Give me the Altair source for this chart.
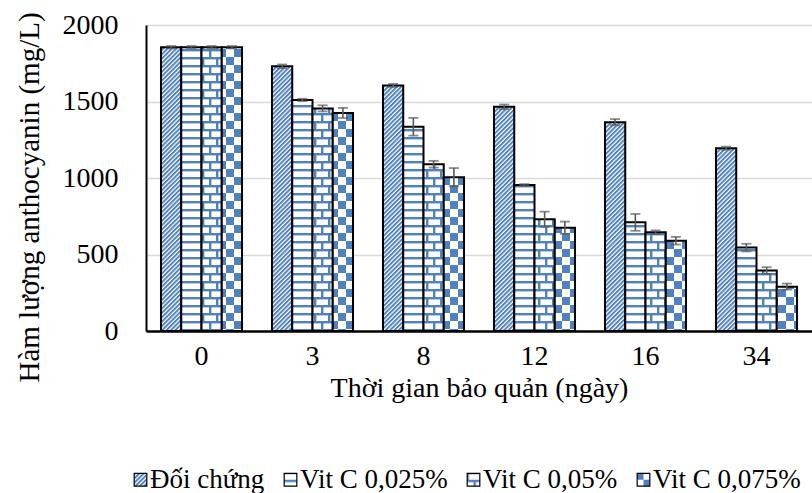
import altair as alt
import pandas as pd

# ---- data ----
days = ["0", "3", "8", "12", "16", "34"]
series = ["Đối chứng", "Vit C 0,025%", "Vit C 0,05%", "Vit C 0,075%"]

doi_chung = [1855, 1730, 1605, 1465, 1365, 1195]
vitc_025 = [1855, 1510, 1335, 955, 710, 545]
vitc_05 = [1855, 1455, 1090, 730, 645, 395]
vitc_075 = [1855, 1425, 1005, 675, 590, 290]

doi_chung_err = [8, 12, 10, 15, 20, 10]
vitc_025_err = [8, 8, 58, 5, 55, 25]
vitc_05_err = [8, 20, 22, 50, 12, 22]
vitc_075_err = [8, 33, 60, 40, 25, 20]

values = [doi_chung, vitc_025, vitc_05, vitc_075]
errors = [doi_chung_err, vitc_025_err, vitc_05_err, vitc_075_err]

rows = []
for s, vals, errs in zip(series, values, errors):
    for d, v, e in zip(days, vals, errs):
        rows.append({"day": d, "series": s, "value": v, "lo": v - e, "hi": v + e})
df = pd.DataFrame(rows)

BLUE = "#4F81BD"
FONT = "Liberation Serif"
FS = 28
TFS = 29
LFS = 27

# pattern fills (with solid fallback colour)
fills = [
    "url(#pDiag) " + BLUE,
    "url(#pHoriz) " + BLUE,
    "url(#pBrick) " + BLUE,
    "url(#pCheck) " + BLUE,
]

x_enc = alt.X(
    "day:N",
    sort=days,
    scale=alt.Scale(paddingInner=0.27, paddingOuter=0.135),
    axis=alt.Axis(
        title="Thời gian bảo quản (ngày)",
        labelAngle=0,
        labelFont=FONT,
        labelFontSize=FS,
        labelColor="black",
        labelPadding=25,
        labelBaseline="middle",
        ticks=False,
        tickSize=0,
        domainColor="black",
        domainWidth=2.5,
        titleFont=FONT,
        titleFontSize=FS,
        titleFontWeight="normal",
        titleColor="black",
        titleY=57,
        titleBaseline="middle",
    ),
)
xoff_enc = alt.XOffset(
    "series:N", sort=series, scale=alt.Scale(paddingInner=0, paddingOuter=0)
)

bars = alt.Chart(df).mark_bar(stroke="black", strokeWidth=2).encode(
    x=x_enc,
    xOffset=xoff_enc,
    y=alt.Y(
        "value:Q",
        scale=alt.Scale(domain=[0, 2000], nice=False),
        axis=alt.Axis(
            values=[0, 500, 1000, 1500, 2000],
            format="d",
            title="Hàm lượng anthocyanin (mg/L)",
            grid=True,
            gridColor="#d9d9d9",
            gridWidth=1.5,
            ticks=False,
            tickSize=0,
            domainColor="black",
            domainWidth=2,
            labelFont=FONT,
            labelFontSize=FS,
            labelColor="black",
            labelPadding=28,
            titleFont=FONT,
            titleFontSize=TFS,
            titleFontWeight="normal",
            titleColor="black",
            titleX=-117,
            titleY=172,
            titleAlign="center",
            titleBaseline="middle",
        ),
    ),
    color=alt.Color(
        "series:N",
        sort=series,
        scale=alt.Scale(domain=series, range=fills),
        legend=alt.Legend(
            title=None,
            orient="none",
            direction="horizontal",
            legendX=-19,
            legendY=441,
            symbolType="square",
            symbolSize=160,
            symbolStrokeColor="black",
            symbolStrokeWidth=1.2,
            symbolOpacity=1,
            labelFont=FONT,
            labelFontSize=LFS,
            labelColor="black",
            labelOffset={"expr": "-4"},
            columnPadding=12,
            labelLimit=300,
        ),
    ),
)

err_rule = alt.Chart(df).mark_rule(color="#595959", strokeWidth=1.6).encode(
    x=x_enc, xOffset=xoff_enc, y="lo:Q", y2="hi:Q"
)
err_lo = alt.Chart(df).mark_tick(color="#595959", thickness=1.8, size=10).encode(
    x=x_enc, xOffset=xoff_enc, y="lo:Q"
)
err_hi = alt.Chart(df).mark_tick(color="#595959", thickness=1.8, size=10).encode(
    x=x_enc, xOffset=xoff_enc, y="hi:Q"
)

chart = (
    alt.layer(bars, err_rule, err_lo, err_hi)
    .properties(
        width=666,
        height=306,
        autosize=alt.AutoSizeParams(type="none"),
        padding={"left": 146, "top": 25, "right": 0, "bottom": 162},
        background="white",
    )
    .configure_view(stroke=None)
)

PATTERN_DEFS = f"""
<svg width="0" height="0" style="position:absolute;width:0;height:0;overflow:hidden" aria-hidden="true">
 <defs>
  <pattern id="pDiag" patternUnits="userSpaceOnUse" width="3.1" height="3.1" patternTransform="rotate(45)">
   <rect width="3.1" height="3.1" fill="#ffffff"/>
   <rect width="1.9" height="3.1" fill="{BLUE}"/>
  </pattern>
  <pattern id="pHoriz" patternUnits="userSpaceOnUse" width="8" height="8">
   <rect width="8" height="8" fill="#ffffff"/>
   <rect y="0" width="8" height="2.4" fill="{BLUE}"/>
  </pattern>
  <pattern id="pBrick" patternUnits="userSpaceOnUse" width="14" height="16">
   <rect width="14" height="16" fill="#ffffff"/>
   <rect y="0" width="14" height="2.4" fill="{BLUE}"/>
   <rect y="8" width="14" height="2.4" fill="{BLUE}"/>
   <rect x="0" y="0" width="2.4" height="8" fill="{BLUE}"/>
   <rect x="7" y="8" width="2.4" height="8" fill="{BLUE}"/>
  </pattern>
  <pattern id="pCheck" patternUnits="userSpaceOnUse" width="16" height="16">
   <rect width="16" height="16" fill="#ffffff"/>
   <rect x="0" y="0" width="8" height="8" fill="{BLUE}"/>
   <rect x="8" y="8" width="8" height="8" fill="{BLUE}"/>
  </pattern>
 </defs>
</svg>
"""


class PatternTemplate:
    """Wraps Altair's standard HTML template and adds SVG pattern definitions."""

    def __init__(self):
        from altair.utils.html import TEMPLATES

        self._std = TEMPLATES["standard"]

    def render(self, *args, **kwargs):
        html = self._std.render(*args, **kwargs)
        i = html.find("<body>")
        if i >= 0:
            i += len("<body>")
            return html[:i] + PATTERN_DEFS + html[i:]
        return PATTERN_DEFS + html


try:
    chart.save(
        "out.html",
        embed_options={"renderer": "svg", "actions": False},
        template=PatternTemplate(),
    )
except Exception:
    chart.save("out.html", embed_options={"renderer": "svg", "actions": False})
